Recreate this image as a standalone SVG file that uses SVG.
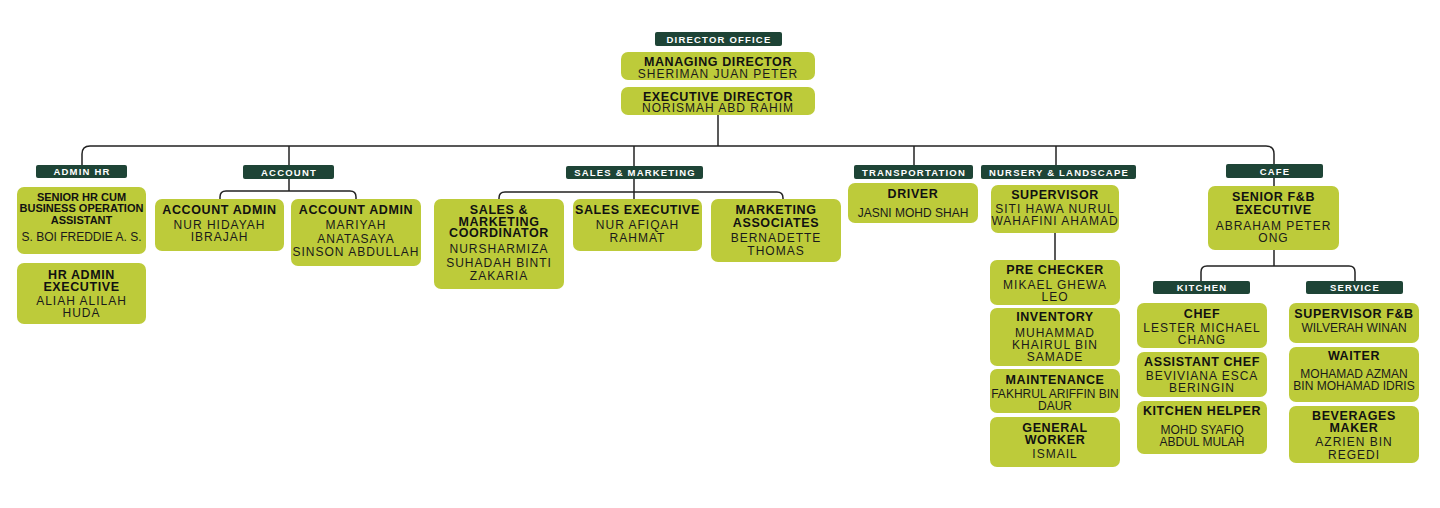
<svg xmlns="http://www.w3.org/2000/svg" width="1440" height="508" viewBox="0 0 1440 508">
<style>
.bg{fill:#ffffff}
.lab{fill:#1e4436}
.box{fill:#bdcb3a}
.lt{font-family:"Liberation Sans",Arial,sans-serif;font-weight:bold;font-size:9.5px;fill:#ffffff;letter-spacing:1.2px;text-anchor:middle}
.t{font-family:"Liberation Sans",Arial,sans-serif;font-weight:bold;font-size:12.5px;fill:#111111;letter-spacing:0.6px;text-anchor:middle}
.ts{font-family:"Liberation Sans",Arial,sans-serif;font-weight:bold;font-size:11px;fill:#111111;letter-spacing:0px;text-anchor:middle}
.n{font-family:"Liberation Sans",Arial,sans-serif;font-size:12px;fill:#1a1a1a;letter-spacing:1px;text-anchor:middle}
.nn{font-family:"Liberation Sans",Arial,sans-serif;font-size:12px;fill:#1a1a1a;letter-spacing:0px;text-anchor:middle}
.c{fill:none;stroke:#222222;stroke-width:1.5}
</style>
<rect class="bg" x="0" y="0" width="1440" height="508"/>

<g id="connectors">
<path class="c" d="M718 115 V146"/>
<path class="c" d="M82 165 V154 Q82 146 90 146 H1266 Q1274 146 1274 154 V164"/>
<path class="c" d="M289 146 V165"/>
<path class="c" d="M634 146 V166"/>
<path class="c" d="M914 146 V165"/>
<path class="c" d="M1056 146 V165"/>
<path class="c" d="M289 179 V191"/>
<path class="c" d="M220 199 V197 Q220 191 226 191 H350 Q356 191 356 197 V199"/>
<path class="c" d="M634 179 V199"/>
<path class="c" d="M499 199 V198 Q499 192 505 192 H777 Q783 192 783 198 V199"/>
<path class="c" d="M1055 233 V260"/>
<path class="c" d="M1274 178 V186"/>
<path class="c" d="M1274 250 V266"/>
<path class="c" d="M1201 281 V272 Q1201 266 1207 266 H1349 Q1355 266 1355 272 V281"/>
</g>

<g id="director-office">
<rect class="lab" x="655" y="32" width="127" height="14" rx="2"/>
<text class="lt" x="719" y="42.5">DIRECTOR OFFICE</text>
</g>
<g id="managing-director">
<rect class="box" x="621" y="52" width="194" height="28" rx="7"/>
<text class="t" x="718" y="65.5">MANAGING DIRECTOR</text>
<text class="n" x="718" y="77.5">SHERIMAN JUAN PETER</text>
</g>
<g id="executive-director">
<rect class="box" x="621" y="87" width="194" height="28" rx="7"/>
<text class="t" x="718" y="100.5">EXECUTIVE DIRECTOR</text>
<text class="n" x="718" y="112.3">NORISMAH ABD RAHIM</text>
</g>

<g id="admin-hr">
<rect class="lab" x="36" y="165" width="91" height="13" rx="2"/>
<text class="lt" x="82" y="175">ADMIN HR</text>
</g>
<g id="senior-hr">
<rect class="box" x="17" y="187" width="129" height="67" rx="7"/>
<text class="ts" x="81.5" y="200.5">SENIOR HR CUM</text>
<text class="ts" x="81.5" y="212">BUSINESS OPERATION</text>
<text class="ts" x="81.5" y="223.5">ASSISTANT</text>
<text class="nn" x="81.5" y="241">S. BOI FREDDIE A. S.</text>
</g>
<g id="hr-admin-executive">
<rect class="box" x="17" y="263" width="129" height="61" rx="7"/>
<text class="t" x="81.5" y="279">HR ADMIN</text>
<text class="t" x="81.5" y="291">EXECUTIVE</text>
<text class="n" x="81.5" y="305">ALIAH ALILAH</text>
<text class="n" x="81.5" y="317">HUDA</text>
</g>

<g id="account">
<rect class="lab" x="243" y="165" width="91" height="14" rx="2"/>
<text class="lt" x="289" y="175.5">ACCOUNT</text>
</g>
<g id="account-admin-1">
<rect class="box" x="155" y="199" width="129" height="52" rx="7"/>
<text class="t" x="219.5" y="214">ACCOUNT ADMIN</text>
<text class="n" x="219.5" y="229">NUR HIDAYAH</text>
<text class="n" x="219.5" y="241">IBRAJAH</text>
</g>
<g id="account-admin-2">
<rect class="box" x="291" y="199" width="130" height="67" rx="7"/>
<text class="t" x="356" y="214">ACCOUNT ADMIN</text>
<text class="n" x="356" y="229">MARIYAH</text>
<text class="n" x="356" y="242.5">ANATASAYA</text>
<text class="n" x="356" y="256">SINSON ABDULLAH</text>
</g>

<g id="sales-marketing">
<rect class="lab" x="566" y="166" width="137" height="13" rx="2"/>
<text class="lt" x="635" y="176">SALES &amp; MARKETING</text>
</g>
<g id="sales-marketing-coordinator">
<rect class="box" x="434" y="199" width="130" height="90" rx="7"/>
<text class="t" x="499" y="214">SALES &amp;</text>
<text class="t" x="499" y="225.5">MARKETING</text>
<text class="t" x="499" y="237">COORDINATOR</text>
<text class="n" x="499" y="253">NURSHARMIZA</text>
<text class="n" x="499" y="266.5">SUHADAH BINTI</text>
<text class="n" x="499" y="280">ZAKARIA</text>
</g>
<g id="sales-executive">
<rect class="box" x="573" y="199" width="129" height="52" rx="7"/>
<text class="t" x="637.5" y="214">SALES EXECUTIVE</text>
<text class="n" x="637.5" y="229">NUR AFIQAH</text>
<text class="n" x="637.5" y="242">RAHMAT</text>
</g>
<g id="marketing-associates">
<rect class="box" x="711" y="199" width="130" height="63" rx="7"/>
<text class="t" x="776" y="214">MARKETING</text>
<text class="t" x="776" y="227">ASSOCIATES</text>
<text class="n" x="776" y="242">BERNADETTE</text>
<text class="n" x="776" y="255">THOMAS</text>
</g>

<g id="transportation">
<rect class="lab" x="854" y="165" width="119" height="14" rx="2"/>
<text class="lt" x="914" y="175.5">TRANSPORTATION</text>
</g>
<g id="driver">
<rect class="box" x="848" y="183" width="130" height="40" rx="7"/>
<text class="t" x="913" y="198">DRIVER</text>
<text class="nn" x="913" y="217">JASNI MOHD SHAH</text>
</g>

<g id="nursery-landscape">
<rect class="lab" x="981" y="165" width="155" height="14" rx="2"/>
<text class="lt" x="1059" y="175.5">NURSERY &amp; LANDSCAPE</text>
</g>
<g id="supervisor">
<rect class="box" x="991" y="185" width="128" height="48" rx="7"/>
<text class="t" x="1055" y="199">SUPERVISOR</text>
<text class="n" x="1055" y="213">SITI HAWA NURUL</text>
<text class="n" x="1055" y="225">WAHAFINI AHAMAD</text>
</g>
<g id="pre-checker">
<rect class="box" x="990" y="260" width="130" height="45" rx="7"/>
<text class="t" x="1055" y="274">PRE CHECKER</text>
<text class="n" x="1055" y="289">MIKAEL GHEWA</text>
<text class="n" x="1055" y="301">LEO</text>
</g>
<g id="inventory">
<rect class="box" x="990" y="308" width="130" height="58" rx="7"/>
<text class="t" x="1055" y="321">INVENTORY</text>
<text class="n" x="1055" y="337">MUHAMMAD</text>
<text class="n" x="1055" y="349">KHAIRUL BIN</text>
<text class="n" x="1055" y="361">SAMADE</text>
</g>
<g id="maintenance">
<rect class="box" x="990" y="369" width="130" height="44" rx="7"/>
<text class="t" x="1055" y="384">MAINTENANCE</text>
<text class="nn" x="1055" y="398">FAKHRUL ARIFFIN BIN</text>
<text class="nn" x="1055" y="410">DAUR</text>
</g>
<g id="general-worker">
<rect class="box" x="990" y="417" width="130" height="50" rx="7"/>
<text class="t" x="1055" y="432">GENERAL</text>
<text class="t" x="1055" y="444">WORKER</text>
<text class="n" x="1055" y="458">ISMAIL</text>
</g>

<g id="cafe">
<rect class="lab" x="1226" y="164" width="97" height="14" rx="2"/>
<text class="lt" x="1275" y="174.5">CAFE</text>
</g>
<g id="senior-fb-executive">
<rect class="box" x="1208" y="186" width="131" height="64" rx="7"/>
<text class="t" x="1273.5" y="201">SENIOR F&amp;B</text>
<text class="t" x="1273.5" y="214">EXECUTIVE</text>
<text class="n" x="1273.5" y="230">ABRAHAM PETER</text>
<text class="n" x="1273.5" y="242">ONG</text>
</g>

<g id="kitchen">
<rect class="lab" x="1153" y="281" width="97" height="13" rx="2"/>
<text class="lt" x="1202" y="291">KITCHEN</text>
</g>
<g id="chef">
<rect class="box" x="1137" y="303" width="130" height="45" rx="7"/>
<text class="t" x="1202" y="318">CHEF</text>
<text class="n" x="1202" y="332">LESTER MICHAEL</text>
<text class="n" x="1202" y="344">CHANG</text>
</g>
<g id="assistant-chef">
<rect class="box" x="1137" y="352" width="130" height="45" rx="7"/>
<text class="t" x="1202" y="366">ASSISTANT CHEF</text>
<text class="n" x="1202" y="380">BEVIVIANA ESCA</text>
<text class="n" x="1202" y="392">BERINGIN</text>
</g>
<g id="kitchen-helper">
<rect class="box" x="1137" y="401" width="130" height="53" rx="7"/>
<text class="t" x="1202" y="415">KITCHEN HELPER</text>
<text class="nn" x="1202" y="434">MOHD SYAFIQ</text>
<text class="nn" x="1202" y="446">ABDUL MULAH</text>
</g>

<g id="service">
<rect class="lab" x="1306" y="281" width="97" height="13" rx="2"/>
<text class="lt" x="1355" y="291">SERVICE</text>
</g>
<g id="supervisor-fb">
<rect class="box" x="1289" y="303" width="130" height="40" rx="7"/>
<text class="t" x="1354" y="318">SUPERVISOR F&amp;B</text>
<text class="nn" x="1354" y="332">WILVERAH WINAN</text>
</g>
<g id="waiter">
<rect class="box" x="1289" y="347" width="130" height="55" rx="7"/>
<text class="t" x="1354" y="360">WAITER</text>
<text class="nn" x="1354" y="378">MOHAMAD AZMAN</text>
<text class="nn" x="1354" y="390">BIN MOHAMAD IDRIS</text>
</g>
<g id="beverages-maker">
<rect class="box" x="1289" y="406" width="130" height="57" rx="7"/>
<text class="t" x="1354" y="420">BEVERAGES</text>
<text class="t" x="1354" y="432">MAKER</text>
<text class="n" x="1354" y="446">AZRIEN BIN</text>
<text class="n" x="1354" y="459">REGEDI</text>
</g>
</svg>
